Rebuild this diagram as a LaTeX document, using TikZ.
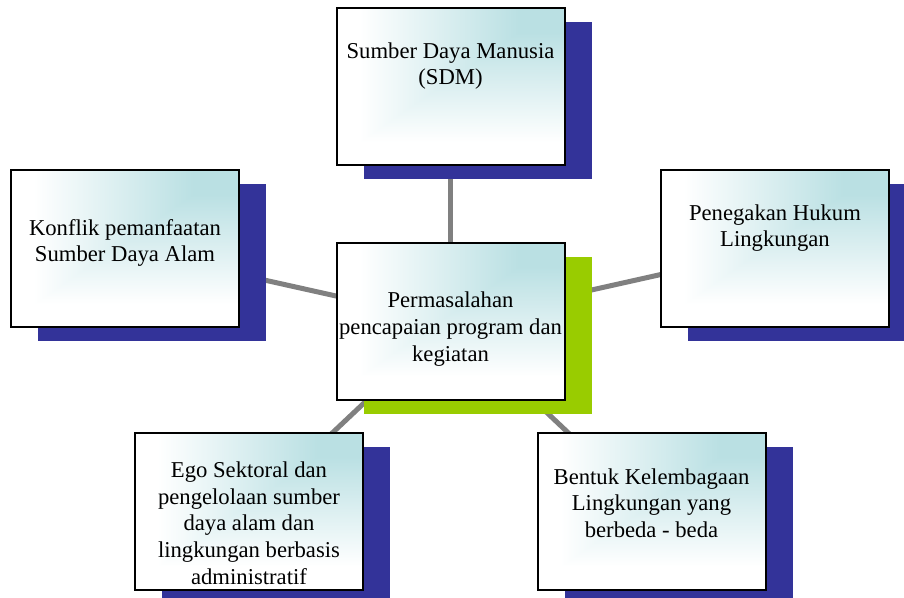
\documentclass[tikz,border=0pt]{standalone}
\usepackage{fontspec}
\setmainfont{Liberation Serif}
\usetikzlibrary{shadows,backgrounds}
\definecolor{sblue}{HTML}{333399}
\definecolor{sgreen}{HTML}{99CC00}
\definecolor{lgray}{HTML}{808080}
% white at left and bottom, teal (BAE0E3) towards the upper right corner
\pgfdeclarefunctionalshading{boxshade}{\pgfpoint{0bp}{0bp}}{\pgfpoint{100bp}{100bp}}{}{
  2 mul 65 sub exch 2 mul 60 sub
  2 copy gt {exch} if pop
  70 div
  dup 0 lt {pop 0} if
  dup 1 gt {pop 1} if
  dup 0.271 mul 1 exch sub exch
  dup 0.122 mul 1 exch sub exch
  0.110 mul 1 exch sub
}
\begin{document}
\begin{tikzpicture}[x=0.75pt,y=-0.75pt,
  box/.style={draw=black, line width=1.5pt, rectangle,
    minimum width=171pt, minimum height=117.75pt, inner sep=0pt,
    shade, shading=boxshade,
    general shadow={fill=#1, shadow xshift=20.25pt, shadow yshift=-10.5pt}},
  box/.default=sblue,
  txt/.style={align=center, font=\fontsize{17pt}{20pt}\selectfont, inner sep=0pt, text=black},
  conn/.style={draw=lgray, line width=3.75pt}]
\useasboundingbox (0,0) rectangle (904,598);
% boxes
\node[box] (sdm) at (450.5,87) {};
\node[box] (konf) at (125,249) {};
\node[box] (peneg) at (775,249) {};
\node[box=sgreen] (ctr) at (450.5,321.5) {};
\node[box] (ego) at (249,511.5) {};
\node[box] (bent) at (651.5,511.5) {};
% texts
\node[txt] (tsdm) at (450.5,66) {Sumber Daya Manusia\\(SDM)};
\node[txt] (tkonf) at (125,243) {Konflik pemanfaatan\\Sumber Daya Alam};
\node[txt] (tpeneg) at (775,228) {Penegakan Hukum\\Lingkungan};
\node[txt] (tctr) at (450.5,329) {Permasalahan\\pencapaian program dan\\kegiatan};
\node[txt] (tego) at (249,523) {Ego Sektoral dan\\pengelolaan sumber\\daya alam dan\\lingkungan berbasis\\administratif};
\node[txt] (tbent) at (651.5,503) {Bentuk Kelembagaan\\Lingkungan yang\\berbeda - beda};
% connectors
\begin{scope}[on background layer]
\fill[white] (0,0) rectangle (904,598);
\draw[conn] (ctr.center) -- (sdm.center);
\draw[conn] (ctr.center) -- (konf.center);
\draw[conn] (ctr.center) -- (peneg.center);
\draw[conn] (ctr.center) -- (ego.center);
\draw[conn] (ctr.center) -- (bent.center);
\end{scope}
\end{tikzpicture}
\end{document}
